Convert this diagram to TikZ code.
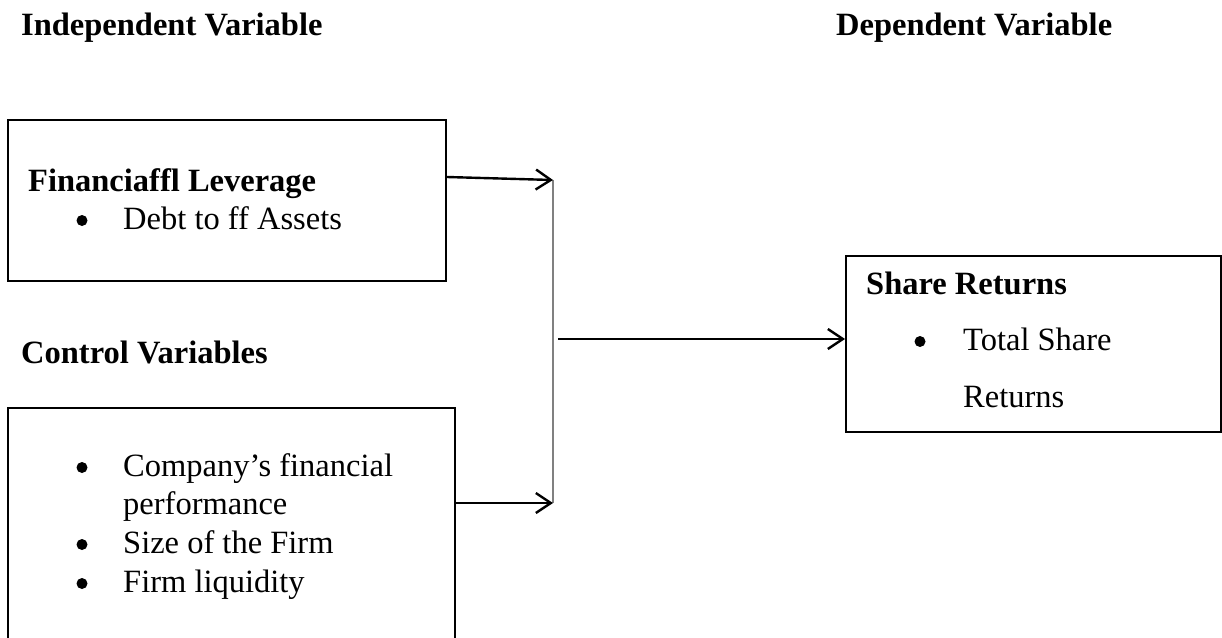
\documentclass[tikz,border=0pt]{standalone}
\usepackage{fontspec}
\setmainfont{Liberation Serif}
\usetikzlibrary{arrows.meta,calc}
\begin{document}
\begin{tikzpicture}[x=1pt,y=-1pt,
  txt/.style={anchor=base west,inner sep=0pt,font=\fontsize{32.5}{39}\selectfont},
  ttl/.style={txt,font=\fontsize{32.5}{39}\selectfont\bfseries},
  bul/.style={circle,fill=black,inner sep=0pt,minimum size=11pt},
  boxn/.style={draw,line width=2pt,anchor=north west,inner sep=0pt,minimum width=#1},
  arr/.style={line width=2.4pt,-{Straight Barb[length=15pt,width=20pt,line width=2.4pt]}},
  vline/.style={draw=black!50,line width=1.6pt}]
\useasboundingbox (0,0) rectangle (1222,637);
\clip (0,0) rectangle (1222,637);
% boxes
\node[boxn=438pt,minimum height=161pt] (box1) at (7,119) {};
\node[boxn=447pt,minimum height=243pt] (box2) at (7,407) {};
\node[boxn=375pt,minimum height=176pt] (box3) at (845,255) {};
% headings
\node[ttl] (indep) at (21,35) {Independent Variable};
\node[ttl] (dep) at (836,35) {Dependent Variable};
\node[ttl] (ctrl) at (21,363) {Control Variables};
% box1 text
\node[ttl] (fl) at (28,191) {Financiaffl Leverage};
\node[bul] (b1) at (82,220.5) {};
\node[txt] (t1) at (123,229) {Debt to ff Assets};
% box2 text
\node[bul] (b2) at (82,467.5) {};
\node[txt] (t2) at (123,476) {Company’s financial};
\node[txt] (t2b) at (123,514) {performance};
\node[bul] (b3) at (82,544.5) {};
\node[txt] (t3) at (123,553) {Size of the Firm};
\node[bul] (b4) at (82,583.5) {};
\node[txt] (t4) at (123,592) {Firm liquidity};
% box3 text
\node[ttl] (sr) at (866,294) {Share Returns};
\node[bul] (b5) at (920,341.5) {};
\node[txt] (t5) at (963,350) {Total Share};
\node[txt] (t5b) at (963,407) {Returns};
% connectors
\coordinate (j1) at (553,180);
\coordinate (j2) at (553,503);
\coordinate (m) at (558,339);
\draw[vline] (j1) -- (j2);
\draw[arr] ($(box1.north east)+(0,58)$) -- (j1);
\draw[arr] (box2.north east |- j2) -- (j2);
\draw[arr] (m) -- (box3.west |- m);
\end{tikzpicture}
\end{document}
